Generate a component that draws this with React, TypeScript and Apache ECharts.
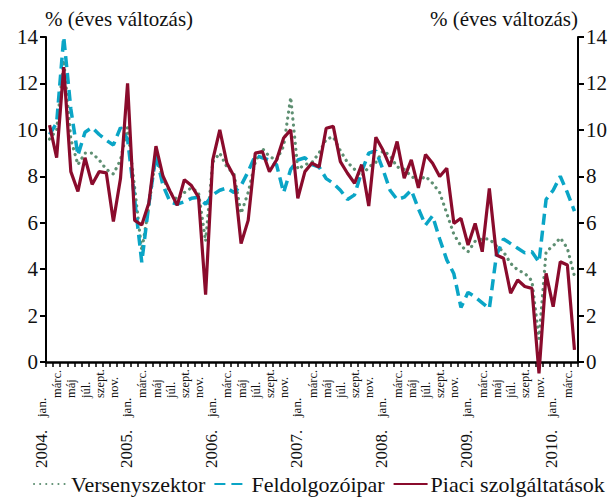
import React, { useEffect, useRef } from "react";
import * as echarts from "echarts";

const years = ["2004.", "2005.", "2006.", "2007.", "2008.", "2009.", "2010."];
const monthNames = ["jan.", "febr.", "márc.", "ápr.", "máj", "jún.", "júl.", "aug.", "szept.", "okt.", "nov.", "dec."];
const monthsInLastYear = 3;

const seriesNames = ["Versenyszektor", "Feldolgozóipar", "Piaci szolgáltatások"];

const versenyszektor = [
  9.6, 10.0, 13.0, 9.6, 8.5, 9.0, 9.0, 8.7, 8.3, 8.1, 8.7, 10.1,
  7.5, 4.8, 6.7, 8.9, 7.9, 7.3, 7.0, 7.3, 7.5, 7.3, 5.2, 8.6,
  9.0, 8.4, 8.1, 6.4, 7.3, 8.6, 9.2, 8.85, 8.7, 9.3, 11.4, 8.3,
  8.5, 8.6, 9.0, 9.6, 9.7, 9.1, 8.6, 8.3, 8.0, 8.4, 8.6, 9.1,
  8.9, 8.4, 8.3, 8.0, 7.8, 8.0, 7.7, 7.3, 6.4, 5.5, 5.0, 4.75,
  5.2, 5.3, 5.3, 5.0, 4.75, 4.25, 3.96, 3.82, 3.5, 1.0, 4.75, 5.0,
  5.35, 4.9, 3.7,
];

const feldolgozoipar = [
  9.8, 10.3, 14.0, 10.9, 8.9, 9.9, 10.1, 9.8, 9.55, 9.35, 10.1, 9.6,
  7.0, 4.3, 6.8, 8.9, 7.6, 6.9, 6.8, 6.9, 7.05, 7.1, 6.8, 7.2,
  7.4, 7.5, 7.3, 7.6, 8.2, 8.9, 8.8, 8.7, 8.5, 7.3, 8.3, 8.7,
  8.8, 8.5, 8.4, 7.9, 7.7, 7.4, 7.0, 7.2, 8.2, 9.0, 9.1, 8.3,
  7.4, 7.0, 7.1, 7.4, 6.6, 5.9, 6.3, 5.3, 4.4, 3.8, 2.35, 3.0,
  2.8, 2.55, 2.3, 4.6, 5.3, 5.1, 4.9, 4.7, 4.75, 4.3, 7.0, 7.4,
  8.0, 7.3, 6.5,
];

const piaciSzolgaltatasok = [
  10.2, 8.8, 12.7, 8.2, 7.35, 8.8, 7.65, 8.2, 8.15, 6.05, 7.9, 12.0,
  6.1, 5.9, 6.85, 9.3, 8.0, 7.35, 6.75, 7.85, 7.6, 7.1, 2.9, 8.7,
  10.0, 8.57, 8.0, 5.1, 6.1, 9.0, 9.07, 8.2, 8.7, 9.65, 10.0, 7.05,
  8.2, 8.57, 8.4, 10.07, 10.15, 8.63, 8.13, 7.7, 8.5, 6.72, 9.68, 9.13,
  8.42, 9.5, 7.92, 8.71, 7.5, 8.94, 8.56, 7.99, 8.35, 5.97, 6.19, 5.04,
  5.97, 4.75, 7.48, 4.61, 4.47, 2.96, 3.53, 3.25, 3.17, -0.49, 3.82, 2.38,
  4.32, 4.18, 0.52,
];

const yTicks = { min: 0, max: 14, interval: 2 };
const axisTitle = "% (éves változás)";

const FONT = '"Liberation Serif", "Times New Roman", serif';

export default function App() {
  const ref = useRef<HTMLDivElement>(null);

  useEffect(() => {
    if (!ref.current) return;
    const chart = echarts.init(ref.current, null, { renderer: "svg" });

    const categories: string[] = [];
    years.forEach((y, yi) => {
      const n = yi === years.length - 1 ? monthsInLastYear : 12;
      for (let m = 0; m < n; m++) categories.push(`${y} ${monthNames[m]}`);
    });

    const yAxisCommon = {
      type: "value",
      min: yTicks.min,
      max: yTicks.max,
      interval: yTicks.interval,
      splitLine: { show: false },
      axisLine: { show: true, lineStyle: { color: "#000", width: 2 } },
      axisTick: { show: true, inside: false, length: 6, lineStyle: { color: "#000", width: 2 } },
      axisLabel: { fontFamily: FONT, fontSize: 21, color: "#111", margin: 8 },
    };

    chart.setOption({
      animation: false,
      backgroundColor: "#fff",
      grid: { left: 46, right: 38, top: 37, bottom: 140, containLabel: false },
      graphic: [
        {
          type: "text",
          x: 45,
          y: 19,
          style: { text: axisTitle, fontFamily: FONT, fontSize: 21, fill: "#111", align: "left", verticalAlign: "middle" },
        },
        {
          type: "text",
          x: 578,
          y: 19,
          style: { text: axisTitle, fontFamily: FONT, fontSize: 21, fill: "#111", align: "right", verticalAlign: "middle" },
        },
      ],
      legend: {
        bottom: 2,
        left: 28,
        itemWidth: 34,
        itemHeight: 14,
        itemGap: 8,
        itemStyle: { opacity: 0 },
        textStyle: { fontFamily: FONT, fontSize: 22, color: "#111", padding: [0, 0, 0, -2] },
        data: seriesNames,
      },
      xAxis: [
        {
          type: "category",
          data: categories,
          boundaryGap: true,
          axisLine: { show: true, lineStyle: { color: "#000", width: 2.5 } },
          axisTick: { show: true, interval: 0, length: 5, lineStyle: { color: "#000", width: 1.5 } },
          splitLine: { show: false },
          axisLabel: {
            interval: 0,
            rotate: 90,
            align: "left",
            verticalAlign: "bottom",
            margin: 36,
            fontFamily: FONT,
            fontSize: 12.5,
            color: "#111",
            formatter: (_v: string, i: number) => (i % 12 !== 0 && i % 2 === 0 ? monthNames[i % 12] : ""),
          },
        },
        {
          type: "category",
          data: categories,
          boundaryGap: true,
          position: "bottom",
          axisLine: { show: false },
          axisTick: { show: false },
          splitLine: { show: false },
          axisLabel: {
            interval: 0,
            rotate: 90,
            align: "left",
            verticalAlign: "bottom",
            margin: 106,
            fontFamily: FONT,
            fontSize: 17,
            color: "#111",
            formatter: (_v: string, i: number) =>
              i % 12 === 0 ? `{y|${years[Math.floor(i / 12)]}}   {m|${monthNames[0]}}` : "",
            rich: {
              y: { fontFamily: FONT, fontSize: 17, color: "#111" },
              m: { fontFamily: FONT, fontSize: 13, color: "#111" },
            },
          },
        },
      ],
      yAxis: [
        { ...yAxisCommon, position: "left" },
        { ...yAxisCommon, position: "right" },
      ],
      series: [
        {
          name: seriesNames[0],
          type: "line",
          data: versenyszektor,
          symbol: "none",
          clip: false,
          lineStyle: { color: "#5e8f72", width: 3.2, type: [0.1, 6], cap: "round" },
          itemStyle: { color: "#5e8f72" },
        },
        {
          name: seriesNames[1],
          type: "line",
          data: feldolgozoipar,
          symbol: "none",
          clip: false,
          lineStyle: { color: "#0aa5c6", width: 3.5, type: [11, 6] },
          itemStyle: { color: "#0aa5c6" },
        },
        {
          name: seriesNames[2],
          type: "line",
          data: piaciSzolgaltatasok,
          symbol: "none",
          clip: false,
          lineStyle: { color: "#8a0b2c", width: 3.2 },
          itemStyle: { color: "#8a0b2c" },
        },
      ],
    });

    return () => chart.dispose();
  }, []);

  return (
    <div
      ref={ref}
      style={{ position: "fixed", left: 0, top: 0, width: 616, height: 502, background: "#fff" }}
    />
  );
}
